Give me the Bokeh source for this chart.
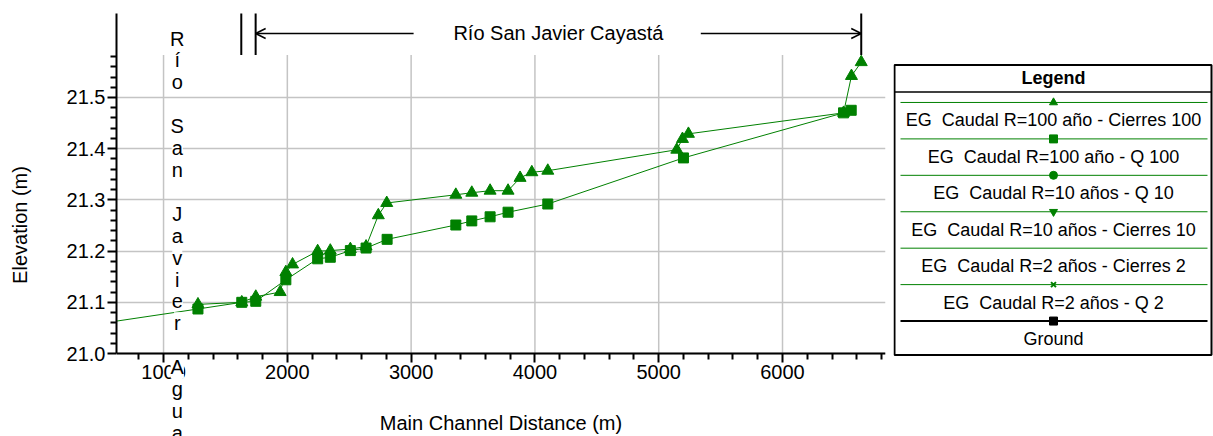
from bokeh.plotting import figure
from bokeh.models import Range1d, FixedTicker, Label, Arrow, OpenHead, NumeralTickFormatter
from bokeh.layouts import row
from bokeh.core.properties import value
from bokeh.embed import file_html
from bokeh.resources import INLINE

# ---------------- data ----------------
dist_cierres100 = [1278, 1632, 1745, 1942, 1988, 2042, 2245, 2347, 2509, 2636, 2735, 2803,
                   3361, 3490, 3638, 3783, 3880, 3975, 4104, 5146, 5192, 5240, 6493, 6557, 6636]
eg_cierres100 = [21.096, 21.100, 21.111, 21.120, 21.159, 21.174, 21.200, 21.201, 21.204, 21.209, 21.270, 21.294,
                 21.310, 21.314, 21.318, 21.318, 21.343, 21.354, 21.357, 21.398, 21.419, 21.429, 21.470, 21.542, 21.569]

dist_q100 = [0, 1278, 1632, 1745, 1988, 2245, 2347, 2509, 2636, 2806,
             3361, 3490, 3638, 3783, 4104, 5200, 6493, 6555]
eg_q100 = [21.041, 21.087, 21.100, 21.102, 21.144, 21.185, 21.188, 21.201, 21.206, 21.223,
           21.251, 21.259, 21.267, 21.276, 21.292, 21.382, 21.470, 21.475]

x_ticks = [1000, 2000, 3000, 4000, 5000, 6000]
x_minor = [800, 1200, 1400, 1600, 1800, 2200, 2400, 2600, 2800, 3200, 3400, 3600, 3800,
           4200, 4400, 4600, 4800, 5200, 5400, 5600, 5800, 6200, 6400, 6600, 6800]
y_ticks = [21.0, 21.1, 21.2, 21.3, 21.4, 21.5]
y_minor = [21.02, 21.04, 21.06, 21.08, 21.12, 21.14, 21.16, 21.18, 21.22, 21.24, 21.26, 21.28,
           21.32, 21.34, 21.36, 21.38, 21.42, 21.44, 21.46, 21.48, 21.52, 21.54, 21.56, 21.58]

river_name = "Río San Javier Cayastá"
junction_name = "Río San Javier Agua"
junction_x = 1111
reach_bounds = [1628, 1744, 6636]

legend_labels = ["EG\u00a0 Caudal R=100 año - Cierres 100", "EG\u00a0 Caudal R=100 año - Q 100",
                 "EG\u00a0 Caudal R=10 años - Q 10", "EG\u00a0 Caudal R=10 años - Cierres 10",
                 "EG\u00a0 Caudal R=2 años - Cierres 2", "EG\u00a0 Caudal R=2 años - Q 2", "Ground"]
legend_markers = ["triangle", "square", "circle", "inverted_triangle", None, "x", "square"]
legend_colors = ["#008000"] * 6 + ["black"]

# ---------------- layout constants ----------------
FONT = "Liberation Sans"
GREEN = "#008000"
X0, X1 = 620, 6832
Y_BASE = 21.0
Y_LOW, Y1 = 20.838, 21.664
PLOT_TOP = 21.583
PX_PER_UNIT = 512.0
H = 436

p = figure(width=893, height=H, x_range=Range1d(X0, X1), y_range=Range1d(Y_LOW, Y1),
           output_backend="svg", toolbar_location=None,
           min_border_left=116, min_border_right=8, min_border_top=13, min_border_bottom=0)
p.outline_line_color = None
p.background_fill_color = "white"

# grids
p.xgrid.visible = False
p.ygrid.ticker = FixedTicker(ticks=y_ticks)
p.ygrid.grid_line_color = "#c4c4c4"
p.ygrid.grid_line_width = 1.5
p.segment(x0=x_ticks, y0=[Y_BASE] * len(x_ticks), x1=x_ticks, y1=[PLOT_TOP] * len(x_ticks),
          line_color="#c4c4c4", line_width=1.5)

# axes
for ax, ticks, minor in ((p.xaxis[0], x_ticks, x_minor), (p.yaxis[0], y_ticks, y_minor)):
    ax.ticker = FixedTicker(ticks=ticks, minor_ticks=minor)
    ax.axis_line_width = 2
    ax.axis_line_color = "black"
    ax.major_tick_line_width = 2
    ax.minor_tick_line_width = 2
    ax.major_tick_in = 0
    ax.minor_tick_in = 0
    ax.major_tick_out = 9
    ax.minor_tick_out = 6
    ax.major_label_text_font = FONT
    ax.major_label_text_font_size = "20px"
    ax.major_label_text_color = "black"
    ax.axis_label_text_font = FONT
    ax.axis_label_text_font_size = "20px"
    ax.axis_label_text_font_style = "normal"
    ax.axis_label_text_color = "black"
p.xaxis[0].formatter = NumeralTickFormatter(format="0")
p.yaxis[0].formatter = NumeralTickFormatter(format="0.0")
p.xaxis[0].axis_label = "Main Channel Distance (m)"
p.yaxis[0].axis_label = "Elevation (m)"
p.xaxis[0].fixed_location = Y_BASE
p.xaxis[0].major_label_standoff = 2
p.xaxis[0].axis_label_standoff = 30
p.yaxis[0].bounds = (Y_BASE, Y1)
p.yaxis[0].major_label_standoff = 2
p.yaxis[0].axis_label_standoff = 33

# series
p.line(dist_cierres100, eg_cierres100, line_color=GREEN, line_width=1)
p.scatter(dist_cierres100, eg_cierres100, marker="triangle", size=12, color=GREEN)
p.line(dist_q100, eg_q100, line_color=GREEN, line_width=1)
p.scatter(dist_q100, eg_q100, marker="square", size=10, color=GREEN)

# reach boundaries and reach name at top
p.segment(x0=reach_bounds, y0=[PLOT_TOP] * 3, x1=reach_bounds, y1=[Y1 + 0.01] * 3,
          line_color="black", line_width=2)
arrow_y = 21.625
mid = (reach_bounds[1] + reach_bounds[2]) / 2
p.add_layout(Arrow(end=OpenHead(size=10, line_width=1.5, line_color="black"),
                   x_start=mid - 1170, y_start=arrow_y, x_end=reach_bounds[1], y_end=arrow_y,
                   line_width=1.5, line_color="black"))
p.add_layout(Arrow(end=OpenHead(size=10, line_width=1.5, line_color="black"),
                   x_start=mid + 1150, y_start=arrow_y, x_end=reach_bounds[2], y_end=arrow_y,
                   line_width=1.5, line_color="black"))
p.add_layout(Label(x=mid, y=arrow_y, text=river_name, text_align="center", text_baseline="middle",
                   text_font=FONT, text_font_size="20px", text_color="black"))

# vertical junction label, one character per line
char_step = 21.9 / PX_PER_UNIT
top_char_y = 21.615
for i, ch in enumerate(junction_name):
    if ch == " ":
        continue
    p.add_layout(Label(x=junction_x, y=top_char_y - i * char_step, text=ch,
                       text_align="center", text_baseline="middle",
                       text_font=FONT, text_font_size="20px", text_color="black",
                       background_fill_color="white"))

# ---------------- legend panel ----------------
LW = 320
leg = figure(width=LW, height=H, x_range=Range1d(0, LW), y_range=Range1d(H, 0),
             output_backend="svg", toolbar_location=None, x_axis_type=None, y_axis_type=None,
             min_border=0)
leg.grid.visible = False
leg.outline_line_color = None

box_top, box_bot = 53, 352
leg.quad(left=1, right=LW - 2, top=box_top, bottom=box_bot, fill_color=None,
         line_color="black", line_width=2)
leg.segment(x0=1, y0=81, x1=LW - 2, y1=81, line_color="black", line_width=1.5)
leg.text(x=LW / 2, y=66, text=["Legend"], text_align="center", text_baseline="middle",
         text_font=value(FONT), text_font_size="18px", text_font_style="bold", text_color="black")

row0, step = 91.7, 37.55
cx = LW / 2
for i, (lab, mk, col) in enumerate(zip(legend_labels, legend_markers, legend_colors)):
    ly = row0 + i * step
    leg.segment(x0=7, y0=ly, x1=LW - 6, y1=ly, line_color=col,
                line_width=2 if col == "black" else 1)
    if mk is not None:
        leg.scatter(x=[cx], y=[ly], marker=mk, size=8 if mk != "x" else 7, color=col,
                    line_width=2 if mk == "x" else 1)
    leg.text(x=cx, y=ly + 18.5, text=[lab], text_align="center", text_baseline="middle",
             text_font=value(FONT), text_font_size="18px", text_color="black")

layout = row(p, leg)
open("out.html", "w").write(file_html(layout, INLINE))
